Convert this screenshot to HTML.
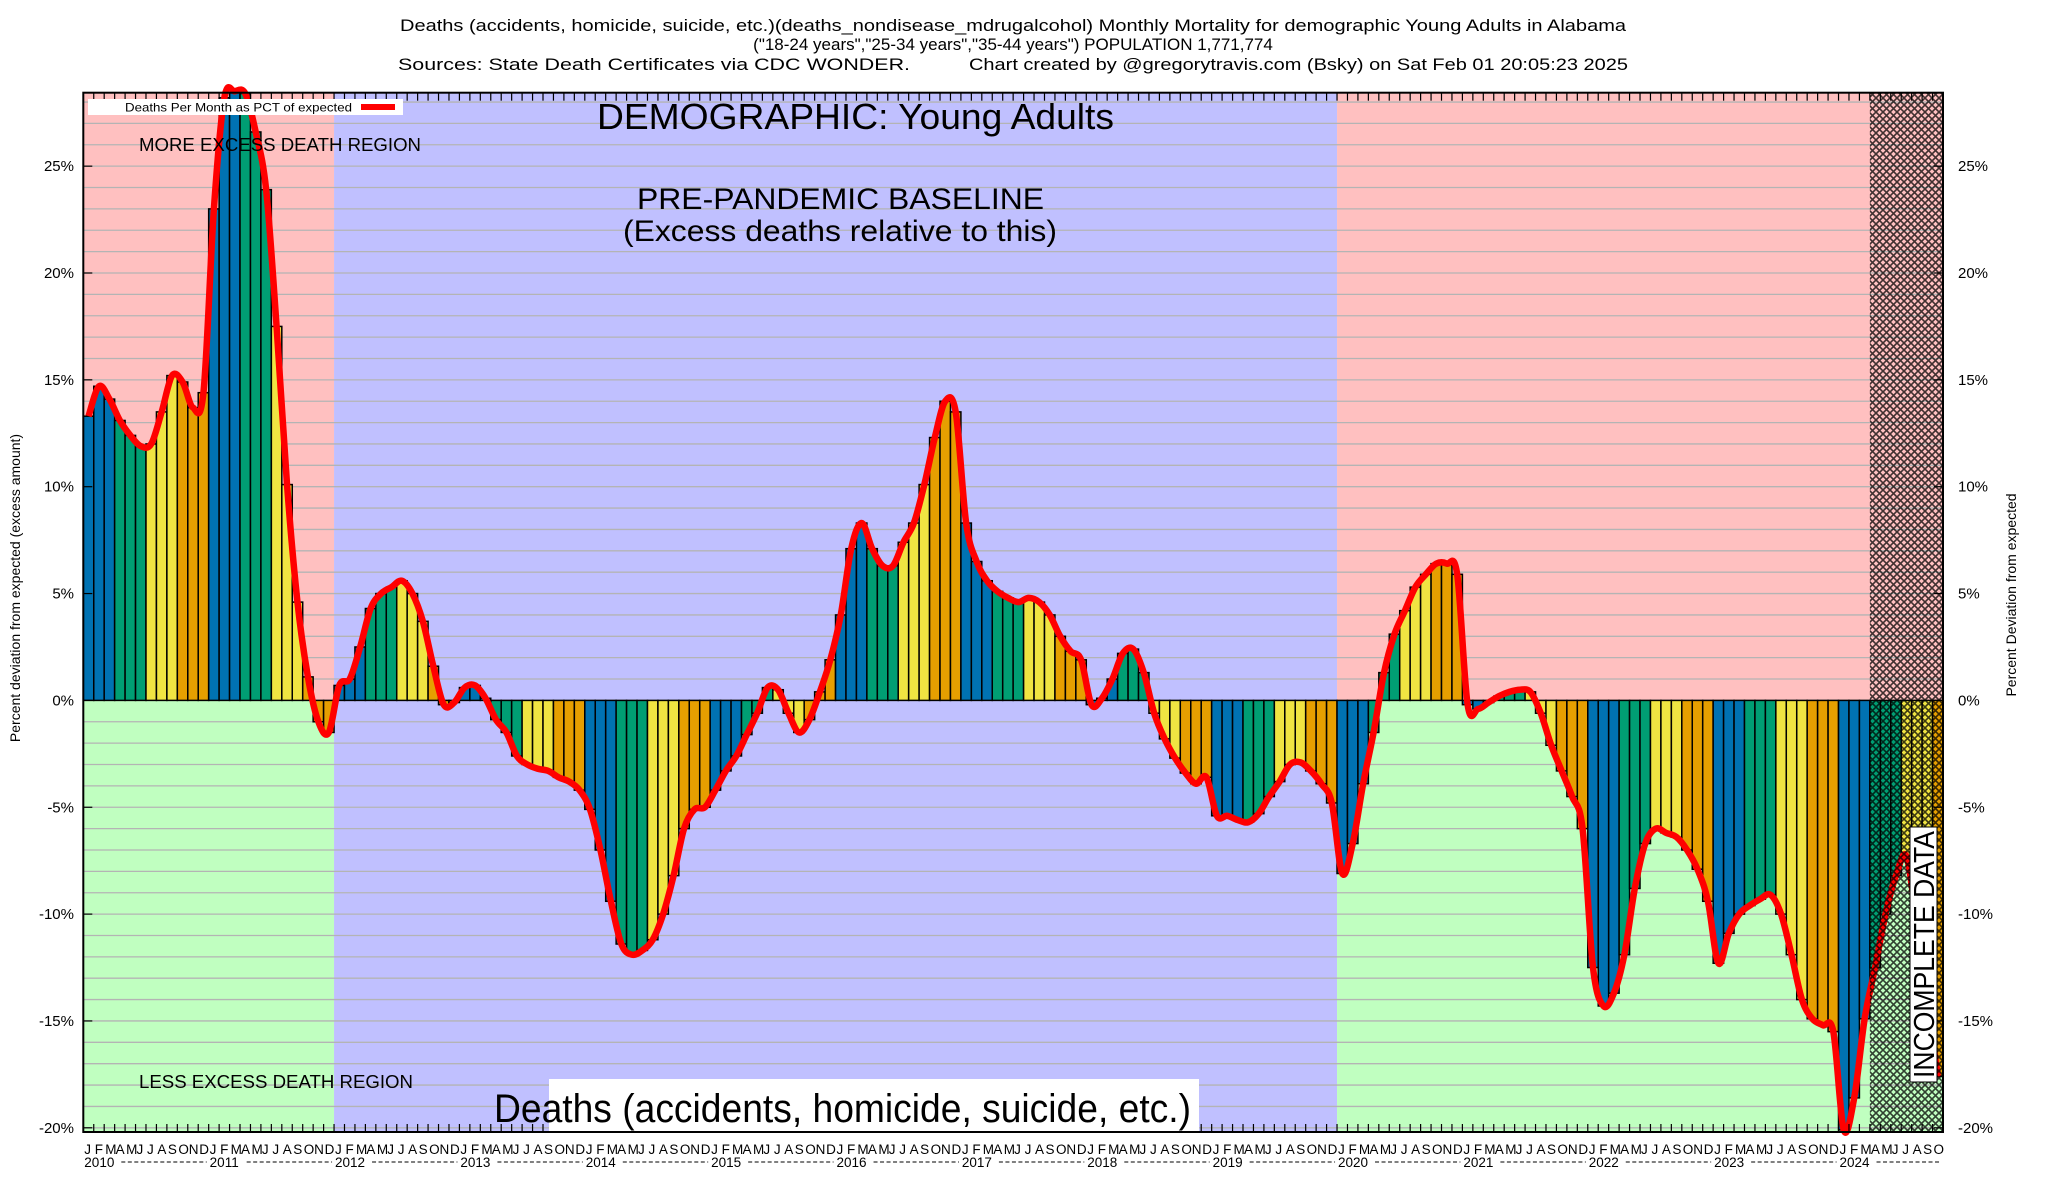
<!DOCTYPE html>
<html><head><meta charset="utf-8"><style>
html,body{margin:0;padding:0;background:#fff;}
svg{display:block;font-family:"Liberation Sans",Arial,sans-serif;}
</style></head><body>
<svg id="s" width="2048" height="1200" viewBox="0 0 2048 1200" xmlns="http://www.w3.org/2000/svg">
<defs>
<pattern id="hatch" width="7" height="7" patternUnits="userSpaceOnUse">
<path d="M0,0 L7,7 M7,0 L0,7" stroke="#000" stroke-width="1.6" opacity="0.75"/>
</pattern>
<clipPath id="pc"><rect x="83.3" y="92.7" width="1859.7" height="1039.3"/></clipPath>
</defs>
<g id="bg"></g>
<g id="grid"></g>
<g id="bars" clip-path="url(#pc)"></g>
<g id="ln"></g>
<g id="hat"></g>
<g id="ax"></g>
<g id="txt"></g>
</svg>
<script>
var NS="http://www.w3.org/2000/svg";
function el(p,t,a,txt){var e=document.createElementNS(NS,t);for(var k in a)e.setAttribute(k,a[k]);if(txt!==undefined)e.textContent=txt;document.getElementById(p).appendChild(e);return e;}
var X0=83.3,X1=1943,YT=92.7,YB=1132,N=178,W=(X1-X0)/N;
function Y(p){return 700.4-p*21.37;}
var v=[13.3,14.7,14.1,13.1,12.4,11.9,12.0,13.5,15.2,14.9,13.7,14.4,
23,28.2,28.5,28.4,26.6,23.9,17.5,10.1,4.6,1.1,-1.0,-1.5,
0.7,1.0,2.5,4.3,5.0,5.3,5.6,5.0,3.7,1.6,-0.2,-0.1,
0.6,0.7,0.1,-0.9,-1.5,-2.6,-3.0,-3.2,-3.3,-3.6,-3.8,-4.2,
-5.1,-7.0,-9.4,-11.4,-11.9,-11.7,-11.2,-10.0,-8.2,-6.0,-5.1,-5.0,
-4.2,-3.3,-2.6,-1.6,-0.6,0.6,0.5,-0.6,-1.5,-0.9,0.4,1.9,
4.0,7.1,8.3,7.1,6.3,6.3,7.4,8.3,10.1,12.3,14.0,13.5,
8.3,6.5,5.6,5.1,4.8,4.6,4.8,4.6,4.0,3.0,2.3,1.9,
-0.2,0.1,1.0,2.2,2.4,1.3,-0.6,-1.8,-2.7,-3.4,-3.9,-3.6,
-5.4,-5.4,-5.6,-5.7,-5.3,-4.5,-3.8,-3.0,-2.9,-3.3,-3.9,-4.8,
-8.1,-6.7,-3.9,-1.5,1.3,3.1,4.2,5.3,5.9,6.4,6.4,5.9,
-0.2,-0.4,-0.1,0.2,0.4,0.5,0.4,-0.6,-2.1,-3.3,-4.5,-6.0,
-12.5,-14.3,-13.7,-11.9,-8.8,-6.7,-6.0,-6.2,-6.4,-7.0,-7.9,-9.4,
-12.3,-10.9,-10.0,-9.6,-9.3,-9.1,-10.0,-11.9,-14.0,-14.9,-15.2,-15.5,
-20.1,-18.6,-14.9,-12.5,-10.0,-8.2,-7.3,-10.5,-14.0,-17.6];
var y0=Y(0);
// backgrounds
var x12=X0+24*W,x20=X0+120*W,xi=X0+171*W;
el("bg","rect",{x:X0,y:YT,width:x12-X0,height:y0-YT,fill:"#ffc0c0"});
el("bg","rect",{x:X0,y:y0,width:x12-X0,height:YB-y0,fill:"#c0ffc0"});
el("bg","rect",{x:x12,y:YT,width:x20-x12,height:YB-YT,fill:"#c0c0ff"});
el("bg","rect",{x:x20,y:YT,width:X1-x20,height:y0-YT,fill:"#ffc0c0"});
el("bg","rect",{x:x20,y:y0,width:X1-x20,height:YB-y0,fill:"#c0ffc0"});
for(var p=-20;p<=28;p++){var yy=Y(p);if(yy<YT+1)continue;el("grid","line",{x1:X0,x2:X1,y1:yy,y2:yy,stroke:"#b4b4b4","stroke-width":1.3});}
var cols=["#0072b2","#009e73","#f0e442","#e69f00"];
for(var i=0;i<N;i++){var a=Y(v[i]);var t=Math.min(a,y0),h=Math.abs(a-y0);
el("bars","rect",{x:X0+i*W,y:t,width:W,height:h,fill:cols[Math.floor((i%12)/3)],stroke:"#000","stroke-width":1.5});}
// line
var pts=v.map(function(q,i){return [X0+(i+0.5)*W,Y(q)];});
var d="M"+pts[0][0]+","+pts[0][1];
for(var i=0;i<pts.length-1;i++){var p0=pts[Math.max(0,i-1)],p1=pts[i],p2=pts[i+1],p3=pts[Math.min(pts.length-1,i+2)];
d+=" C"+(p1[0]+(p2[0]-p0[0])/6)+","+(p1[1]+(p2[1]-p0[1])/6)+" "+(p2[0]-(p3[0]-p1[0])/6)+","+(p2[1]-(p3[1]-p1[1])/6)+" "+p2[0]+","+p2[1];}
el("ln","path",{d:d,fill:"none",stroke:"#ff0000","stroke-width":6.5,"stroke-linejoin":"round"});
el("hat","rect",{x:xi,y:YT,width:X1-xi,height:YB-YT,fill:"url(#hatch)"});
// axes
el("ax","rect",{x:X0,y:YT,width:X1-X0,height:YB-YT,fill:"none",stroke:"#000","stroke-width":2});
for(var i=1;i<N;i++){var x=X0+i*W;el("ax","line",{x1:x,x2:x,y1:YB,y2:YB-8,stroke:"#000","stroke-width":1.2});el("ax","line",{x1:x,x2:x,y1:YT,y2:YT+8,stroke:"#000","stroke-width":1.2});}
for(var p=-20;p<=25;p+=5){var yy=Y(p);
el("ax","line",{x1:X0,x2:X0+9,y1:yy,y2:yy,stroke:"#000","stroke-width":1.2});el("ax","line",{x1:X1-9,x2:X1,y1:yy,y2:yy,stroke:"#000","stroke-width":1.2});
el("txt","text",{x:74,y:yy+5,"text-anchor":"end","font-size":15},p+"%");
el("txt","text",{x:1958,y:yy+5,"font-size":15},p+"%");}
var ml="JFMAMJJASOND";
for(var i=0;i<N;i++){el("txt","text",{x:X0+i*W+1,y:1154,"font-size":13.5},ml[i%12]);}
for(var yr=0;yr<15;yr++){var x=X0+yr*12*W;el("txt","text",{x:x+1,y:1167,"font-size":13.5},String(2010+yr));
var xe=Math.min(X0+(yr+1)*12*W,X1);el("ax","line",{x1:x+38,x2:xe-2,y1:1162,y2:1162,stroke:"#000","stroke-width":1,"stroke-dasharray":"4,2.5"});}
// titles
el("txt","text",{x:1013,y:31,"text-anchor":"middle","font-size":17,textLength:1226,lengthAdjust:"spacingAndGlyphs"},"Deaths (accidents, homicide, suicide, etc.)(deaths_nondisease_mdrugalcohol) Monthly Mortality for demographic Young Adults in Alabama");
el("txt","text",{x:1013,y:50,"text-anchor":"middle","font-size":17},"(\"18-24 years\",\"25-34 years\",\"35-44 years\") POPULATION 1,771,774");
el("txt","text",{x:398,y:70,"font-size":17,textLength:512,lengthAdjust:"spacingAndGlyphs"},"Sources: State Death Certificates via CDC WONDER.");
el("txt","text",{x:969,y:70,"font-size":17,textLength:659,lengthAdjust:"spacingAndGlyphs"},"Chart created by @gregorytravis.com (Bsky) on Sat Feb 01 20:05:23 2025");
el("txt","text",{x:597,y:129,"font-size":36,textLength:517,lengthAdjust:"spacingAndGlyphs"},"DEMOGRAPHIC: Young Adults");
el("txt","text",{x:637,y:209,"font-size":30,textLength:407,lengthAdjust:"spacingAndGlyphs"},"PRE-PANDEMIC BASELINE");
el("txt","text",{x:623,y:241,"font-size":30,textLength:434,lengthAdjust:"spacingAndGlyphs"},"(Excess deaths relative to this)");
el("txt","text",{x:139,y:151,"font-size":18,textLength:282,lengthAdjust:"spacingAndGlyphs"},"MORE EXCESS DEATH REGION");
el("txt","text",{x:139,y:1088,"font-size":18,textLength:274,lengthAdjust:"spacingAndGlyphs"},"LESS EXCESS DEATH REGION");
el("txt","rect",{x:549,y:1079,width:650,height:52,fill:"#fff"});
el("txt","text",{x:494,y:1122,"font-size":40,textLength:697,lengthAdjust:"spacingAndGlyphs"},"Deaths (accidents, homicide, suicide, etc.)");
el("txt","rect",{x:88,y:99,width:315,height:16,fill:"#fff"});
el("txt","text",{x:125,y:111.5,"font-size":12,textLength:227,lengthAdjust:"spacingAndGlyphs"},"Deaths Per Month as PCT of expected");
el("txt","line",{x1:361,x2:395,y1:107,y2:107,stroke:"#f00","stroke-width":6});
el("txt","rect",{x:1910,y:827,width:27,height:255,fill:"#fff",stroke:"#000","stroke-width":1});
el("txt","text",{x:0,y:0,"font-size":29,transform:"translate(1934,1078) rotate(-90)",textLength:247,lengthAdjust:"spacingAndGlyphs"},"INCOMPLETE DATA");
el("txt","text",{x:0,y:0,"font-size":14,"text-anchor":"middle",transform:"translate(20,588) rotate(-90)"},"Percent deviation from expected (excess amount)");
el("txt","text",{x:0,y:0,"font-size":14,"text-anchor":"middle",transform:"translate(2016,595) rotate(-90)"},"Percent Deviation from expected");
</script>
</body></html>
